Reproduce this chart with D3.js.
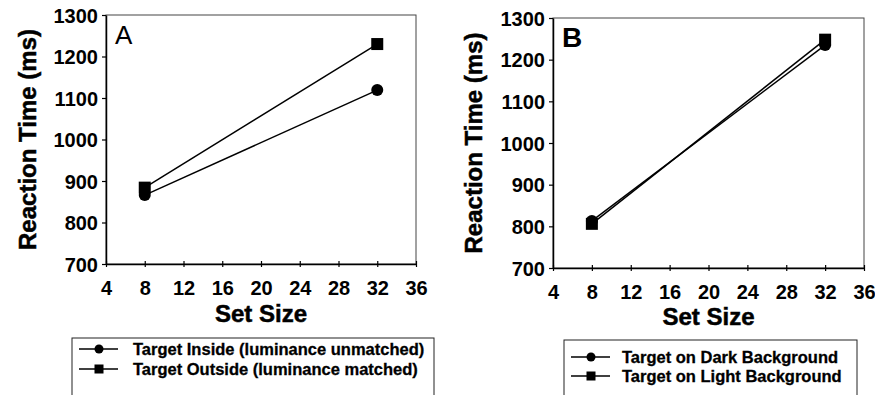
<!DOCTYPE html>
<html><head><meta charset="utf-8">
<script src="https://cdn.jsdelivr.net/npm/d3@7"></script>
<style>
html,body{margin:0;padding:0;background:#fff;}
svg{display:block;font-family:"Liberation Sans",Arial,sans-serif;}
</style></head>
<body>
<svg id="chart" width="875" height="395"></svg>
<script>
// ---- data ----
const setSizes = [8, 32];
const xTicks = [4, 8, 12, 16, 20, 24, 28, 32, 36];
const yTicks = [700, 800, 900, 1000, 1100, 1200, 1300];
const panelLabels = ["A", "B"];
const xTitle = "Set Size";
const yTitle = "Reaction Time (ms)";
// Panel A
const aInside = [866, 1119];
const aOutside = [884, 1230];
const aNames = ["Target Inside (luminance unmatched)", "Target Outside (luminance matched)"];
// Panel B
const bDark = [813, 1235];
const bLight = [806, 1248];
const bNames = ["Target on Dark Background", "Target on Light Background"];

const svg = d3.select("#chart");

const panels = [
  {label: panelLabels[0], labelBold: false, labelSize: 26,
   x0: 106, x1: 416, y0: 15, y1: 264, yTitleX: 27, xTitleY: 322,
   series: [{v: aInside, sym: "circle", name: aNames[0]}, {v: aOutside, sym: "square", name: aNames[1]}],
   legend: {x: 72, y: 338, w: 362, rows: [349, 369], textX: 133}},
  {label: panelLabels[1], labelBold: true, labelSize: 28,
   x0: 553, x1: 864, y0: 18, y1: 268, yTitleX: 473, xTitleY: 325,
   series: [{v: bDark, sym: "circle", name: bNames[0]}, {v: bLight, sym: "square", name: bNames[1]}],
   legend: {x: 564, y: 340, w: 293, rows: [357, 376], textX: 622}}
];

function drawMarker(g, sym, cx, cy, size) {
  if (sym === "circle") {
    g.append("circle").attr("cx", cx).attr("cy", cy).attr("r", size / 2).attr("fill", "#000");
  } else {
    g.append("rect").attr("x", cx - size / 2).attr("y", cy - size / 2)
      .attr("width", size).attr("height", size).attr("fill", "#000");
  }
}

panels.forEach(p => {
  const x = d3.scaleLinear().domain([4, 36]).range([p.x0, p.x1]);
  const y = d3.scaleLinear().domain([700, 1300]).range([p.y1, p.y0]);
  const g = svg.append("g");

  // frame
  g.append("rect").attr("x", p.x0).attr("y", p.y0)
    .attr("width", p.x1 - p.x0).attr("height", p.y1 - p.y0)
    .attr("fill", "none").attr("stroke", "#444").attr("stroke-width", 1);

  // axes
  const xa = g.append("g").attr("transform", `translate(0,${p.y1})`)
    .call(d3.axisBottom(x).tickValues(xTicks).tickFormat(d3.format("d"))
      .tickSize(3).tickSizeOuter(0).tickPadding(14));
  xa.selectAll(".tick line").attr("y1", -3);
  const ya = g.append("g").attr("transform", `translate(${p.x0},0)`)
    .call(d3.axisLeft(y).tickValues(yTicks).tickFormat(d3.format("d"))
      .tickSize(4).tickSizeOuter(0).tickPadding(4));
  [xa, ya].forEach(a => {
    a.select(".domain").attr("stroke", "#000").attr("stroke-width", 1.5);
    a.selectAll(".tick line").attr("stroke", "#000").attr("stroke-width", 1.2);
    a.selectAll(".tick text").attr("font-family", "Liberation Sans, Arial, sans-serif")
      .attr("font-size", 20).attr("font-weight", "bold").attr("fill", "#000");
  });
  xa.selectAll(".tick text").attr("dy", "0.71em");
  ya.selectAll(".tick text").attr("dy", "0.36em");

  // titles
  g.append("text").attr("transform", `translate(${p.yTitleX},${(p.y0 + p.y1) / 2}) rotate(-90)`)
    .attr("text-anchor", "middle").attr("dominant-baseline", "central")
    .attr("font-size", 24).attr("font-weight", "bold")
    .attr("stroke", "#000").attr("stroke-width", 0.5).text(yTitle);
  g.append("text").attr("x", (p.x0 + p.x1) / 2).attr("y", p.xTitleY)
    .attr("text-anchor", "middle").attr("font-size", 24).attr("font-weight", "bold")
    .attr("stroke", "#000").attr("stroke-width", 0.5).text(xTitle);

  // panel label
  g.append("text").attr("x", p.x0 + 9).attr("y", p.y0 + 29)
    .attr("font-size", p.labelSize).attr("font-weight", p.labelBold ? "bold" : "normal").text(p.label);

  // series
  const line = d3.line().x((d, i) => x(setSizes[i])).y(d => y(d));
  p.series.forEach(s => {
    g.append("path").datum(s.v).attr("d", line).attr("fill", "none")
      .attr("stroke", "#000").attr("stroke-width", 1.5);
    s.v.forEach((v, i) => drawMarker(g, s.sym, x(setSizes[i]), y(v), 12));
  });

  // legend
  const L = p.legend;
  g.append("rect").attr("x", L.x).attr("y", L.y).attr("width", L.w).attr("height", 80)
    .attr("fill", "none").attr("stroke", "#222").attr("stroke-width", 1);
  p.series.forEach((s, i) => {
    const cy = L.rows[i];
    g.append("line").attr("x1", L.x + 7).attr("x2", L.x + 46).attr("y1", cy).attr("y2", cy)
      .attr("stroke", "#000").attr("stroke-width", 1.6);
    drawMarker(g, s.sym, L.x + 27, cy, 9);
    g.append("text").attr("x", L.textX).attr("y", cy).attr("dominant-baseline", "central")
      .attr("font-size", 16.5).attr("font-weight", "bold")
      .attr("stroke", "#000").attr("stroke-width", 0.3).text(s.name);
  });
});
</script>
</body></html>
